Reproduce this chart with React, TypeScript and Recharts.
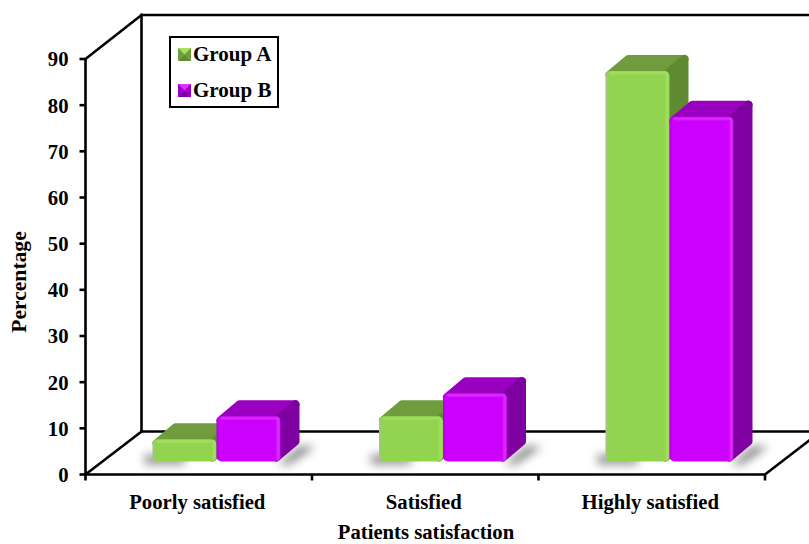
import React from "react";
import { BarChart, Bar, XAxis, YAxis, Legend, Label, usePlotArea } from "recharts";

const categories = ["Poorly satisfied", "Satisfied", "Highly satisfied"];
const groupA = [4.8, 9.8, 84.6];
const groupB = [9.8, 14.8, 74.7];
const yTicks = [0, 10, 20, 30, 40, 50, 60, 70, 80, 90];
const rows = categories.map((name, i) => ({ name, a: groupA[i], b: groupB[i] }));

const FONT = "'Liberation Serif', 'Times New Roman', serif";
const INK = "#000";
const TEXT_SIZE = 20.7;

// Perspective of the box the chart stands in, and of each bar.
const WALL_DX = 56;
const WALL_DY = 43;
const BAR_DX = 19;
const BAR_DY = 16;
const SHIFT_X = 18;
const SHIFT_Y = 13;

const greenSkin = { id: "green", front: "#92D450", top: "#6F9C3E", side: "#5F8A30", glow: "#A4E25C", dim: "#A9BF93", rim: "#7FAE47" };
const purpleSkin = { id: "purple", front: "#CC00FF", top: "#9A00BF", side: "#7F00A0", glow: "#DD33FF", dim: "#B400E0", rim: "#A610CC" };

function Gradients() {
  return (
    <defs>
      <filter id="floorShadow" x="-60%" y="-100%" width="220%" height="300%">
        <feGaussianBlur stdDeviation="5" />
      </filter>
      <filter id="softEdge" x="-10%" y="-10%" width="120%" height="120%">
        <feGaussianBlur stdDeviation="0.5" />
      </filter>
      {[greenSkin, purpleSkin].map((s) => (
        <React.Fragment key={s.id}>
          <linearGradient id={`${s.id}Front`} x1="0" y1="0" x2="1" y2="0">
            <stop offset="0" stopColor={s.dim} />
            <stop offset="0.05" stopColor={s.front} />
            <stop offset="0.92" stopColor={s.front} />
            <stop offset="0.97" stopColor={s.glow} />
            <stop offset="1" stopColor={s.front} />
          </linearGradient>
          <linearGradient id={`${s.id}Top`} x1="0" y1="0" x2="0" y2="1">
            <stop offset="0" stopColor={s.rim} />
            <stop offset="0.3" stopColor={s.top} />
            <stop offset="0.8" stopColor={s.top} />
            <stop offset="1" stopColor={s.front} />
          </linearGradient>
        </React.Fragment>
      ))}
    </defs>
  );
}

// Back wall, floor and the tick marks between categories.
function Box() {
  const area = usePlotArea();
  if (!area) return null;
  const left = area.x;
  const top = area.y;
  const right = left + area.width;
  const bottom = top + area.height;
  const bx = left + WALL_DX;
  const by = bottom - WALL_DY;
  const ty = top - WALL_DY - 1;
  const ticks = [0, 1, 2, 3].map((i) => left + (area.width * i) / 3);
  return (
    <g stroke={INK} strokeWidth={2.6} fill="none" strokeLinecap="square">
      <Gradients />
      <line x1={bx} y1={ty} x2={bx} y2={by} />
      <line x1={bx} y1={ty} x2={809} y2={ty} />
      <line x1={bx} y1={by} x2={809} y2={by} />
      <line x1={left} y1={top} x2={bx} y2={ty} />
      <line x1={left} y1={bottom} x2={bx} y2={by} />
      <line x1={right} y1={bottom} x2={right + WALL_DX} y2={by} />
      {ticks.map((t) => (
        <line key={t} x1={t} y1={bottom} x2={t} y2={bottom + 6} strokeLinecap="butt" />
      ))}
    </g>
  );
}

function Block({ x, y, width, height, skin, shadowSide }: any) {
  const l = x + SHIFT_X;
  const t = y - SHIFT_Y;
  const r = l + width;
  const b = t + height;
  const leftShadow = `${l - 8},${b - 7} ${l + width * 0.5},${b - 7} ${l + width * 0.5},${b + 3} ${l - 8},${b + 3}`;
  const rightShadow = `${r - width * 0.6},${b + 3} ${r - 2},${b + 3} ${r + BAR_DX},${b - BAR_DY + 1} ${r + BAR_DX + 16},${b - BAR_DY + 1} ${r + 8},${b + 3}`;
  const inset = 4;
  return (
    <g>
      <polygon
        points={shadowSide === "left" ? leftShadow : rightShadow}
        fill="#000"
        fillOpacity={shadowSide === "left" ? 0.42 : 0.5}
        filter="url(#floorShadow)"
      />
      <g filter="url(#softEdge)">
        {/* receding faces, with rounded outer corners */}
        <polygon
          points={`${l + inset},${t + inset} ${r - inset},${t + inset} ${r + BAR_DX - inset},${t - BAR_DY + inset} ${l + BAR_DX + inset},${t - BAR_DY + inset}`}
          fill={`url(#${skin.id}Top)`}
          stroke={skin.top}
          strokeWidth={inset * 2}
          strokeLinejoin="round"
        />
        <polygon
          points={`${r - inset},${t + inset} ${r + BAR_DX - inset},${t - BAR_DY + inset} ${r + BAR_DX - inset},${b - BAR_DY - inset} ${r - inset},${b - inset}`}
          fill={skin.side}
          stroke={skin.side}
          strokeWidth={inset * 2}
          strokeLinejoin="round"
        />
        <rect x={l} y={t} width={width} height={height} rx={5} fill={`url(#${skin.id}Front)`} />
        <rect x={l + 4} y={t + 0.5} width={width - 6} height={3} rx={1.5} fill={skin.glow} opacity={0.75} />
      </g>
    </g>
  );
}

const GreenBar = (p: any) => <Block {...p} skin={greenSkin} shadowSide="left" />;
const PurpleBar = (p: any) => <Block {...p} skin={purpleSkin} shadowSide="right" />;

function Swatch({ skin }: any) {
  return (
    <svg width={13} height={13} style={{ display: "block" }}>
      <rect width={13} height={13} fill={skin.front} />
      <polygon points="0,0 13,0 6.5,6.5" fill={skin.glow} />
      <polygon points="13,0 13,13 6.5,6.5" fill={skin.top} />
      <polygon points="0,13 13,13 6.5,6.5" fill={skin.side} />
      <polygon points="0,0 0,13 6.5,6.5" fill={skin.top} />
    </svg>
  );
}

function LegendBox() {
  const row = (label: string, skin: any) => (
    <div style={{ display: "flex", alignItems: "center", height: 36, paddingLeft: 7 }}>
      <Swatch skin={skin} />
      <span style={{ marginLeft: 2, fontSize: 21, fontWeight: 700, lineHeight: 1 }}>{label}</span>
    </div>
  );
  return (
    <div
      style={{
        width: 110,
        height: 72,
        boxSizing: "border-box",
        border: "2px solid #000",
        background: "#fff",
        fontFamily: FONT,
        color: INK,
        overflow: "hidden",
      }}
    >
      <div style={{ marginTop: -2 }}>
        {row("Group A", greenSkin)}
        {row("Group B", purpleSkin)}
      </div>
    </div>
  );
}

const titleStyle = { fill: INK, fontFamily: FONT, fontSize: TEXT_SIZE, fontWeight: 700 };

const XTitle = () => (
  <text x={426} y={539} textAnchor="middle" {...titleStyle}>
    Patients satisfaction
  </text>
);

const YTitle = () => (
  <text x={26} y={282} textAnchor="middle" transform="rotate(-90 26 282)" {...titleStyle} fontSize={21.6}>
    Percentage
  </text>
);

export default function App() {
  return (
    <div style={{ position: "absolute", left: 0, top: 0, width: 809, height: 544, background: "#fff", overflow: "hidden" }}>
      <BarChart
        width={809}
        height={544}
        data={rows}
        barSize={64}
        barGap={0}
        margin={{ top: 59, right: 44, bottom: 0, left: 0 }}
      >
        <Box />
        <XAxis
          dataKey="name"
          height={69.5}
          axisLine={{ stroke: INK, strokeWidth: 2.6 }}
          tickLine={false}
          tickMargin={14}
          interval={0}
          tick={{ fill: INK, fontFamily: FONT, fontSize: TEXT_SIZE, fontWeight: 700, dx: -1.5 }}
        >
          <Label content={XTitle} />
        </XAxis>
        <YAxis
          width={85.5}
          domain={[0, 90]}
          ticks={yTicks}
          interval={0}
          axisLine={{ stroke: INK, strokeWidth: 2.6 }}
          tickLine={{ stroke: INK, strokeWidth: 2.6 }}
          tickSize={6}
          tickMargin={11}
          tick={{ fill: INK, fontFamily: FONT, fontSize: TEXT_SIZE, fontWeight: 700 }}
        >
          <Label content={YTitle} />
        </YAxis>
        <Legend
          layout="vertical"
          align="center"
          verticalAlign="middle"
          wrapperStyle={{ left: 169, top: 36, width: 110, height: 72 }}
          content={() => <LegendBox />}
        />
        <Bar dataKey="a" name="Group A" isAnimationActive={false} shape={GreenBar} />
        <Bar dataKey="b" name="Group B" isAnimationActive={false} shape={PurpleBar} />
      </BarChart>
    </div>
  );
}
